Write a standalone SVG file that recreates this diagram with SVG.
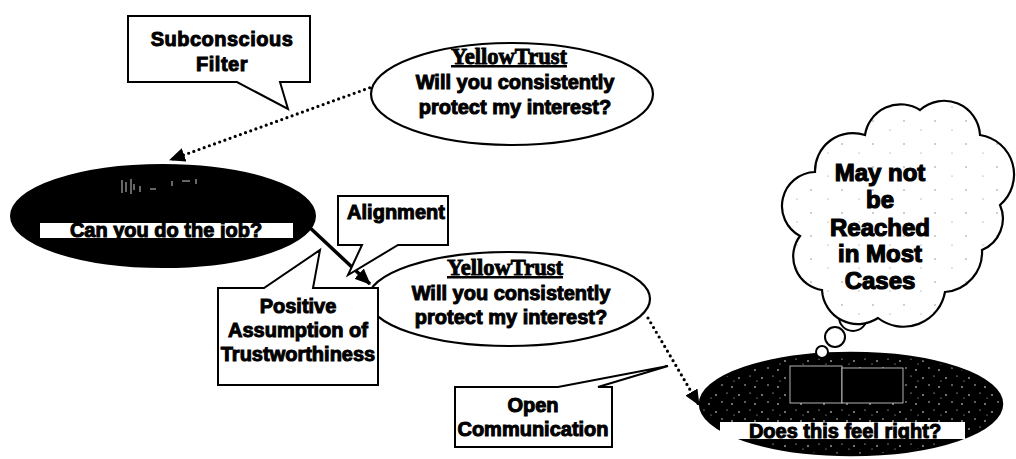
<svg xmlns="http://www.w3.org/2000/svg" width="1016" height="459" viewBox="0 0 1016 459">
<defs>
<style>
.lbl{font-family:"Liberation Sans",Arial,sans-serif;font-weight:bold;font-size:20px;fill:#000;stroke:#000;stroke-width:1;text-anchor:middle}
.big{font-size:24px;stroke-width:1.2}
.box{fill:#fff;stroke:#000;stroke-width:2;stroke-linejoin:miter}
.oval{fill:#fff;stroke:#000;stroke-width:2.2}
.logo{font-family:"Liberation Serif",serif;font-weight:bold;font-size:16px;fill:#000;text-anchor:middle;stroke:#000;stroke-width:0.6}
.dots{fill:none;stroke:#000;stroke-width:3.2;stroke-linecap:round;stroke-dasharray:0 5.5}
.solid{fill:none;stroke:#000;stroke-width:3.5}
</style>
<marker id="head" viewBox="0 0 16 14" refX="15" refY="7" markerWidth="16" markerHeight="14" markerUnits="userSpaceOnUse" orient="auto">
<path d="M0,0 L16,7 L0,14 Z" fill="#000"/>
</marker>
<pattern id="speck" width="23" height="17" patternUnits="userSpaceOnUse">
<rect width="23" height="17" fill="#000"/>
<circle cx="3" cy="4" r="0.8" fill="#fff"/>
<circle cx="14" cy="2" r="0.6" fill="#fff"/>
<circle cx="9" cy="11" r="0.7" fill="#fff"/>
<circle cx="19" cy="13" r="0.8" fill="#fff"/>
<circle cx="21" cy="7" r="0.5" fill="#fff"/>
</pattern>
<pattern id="haze" width="31" height="23" patternUnits="userSpaceOnUse">
<rect width="31" height="23" fill="#fff"/>
<circle cx="5" cy="6" r="0.7" fill="#777"/>
<circle cx="22" cy="15" r="0.6" fill="#888"/>
</pattern>
</defs>

<!-- connectors -->
<g id="connectors">
<path class="dots" d="M380,84 L170,160" marker-end="url(#head)"/>
<path class="solid" d="M306,224 L370,284" marker-end="url(#head)"/>
<path class="dots" d="M648,318 L699,405" marker-end="url(#head)"/>
</g>

<!-- top question oval -->
<g id="trust-top">
<ellipse class="oval" cx="512" cy="94" rx="141" ry="51"/>
<text class="logo" transform="translate(509,64) scale(1,1.5)" x="0" y="0" textLength="116" lengthAdjust="spacingAndGlyphs">YellowTrust</text>
<rect x="451" y="65" width="116" height="2.5" fill="#000"/>
<text class="lbl" x="515" y="89">Will you consistently</text>
<text class="lbl" x="515" y="114">protect my interest?</text>
</g>

<!-- ability oval -->
<g id="ability">
<ellipse cx="163" cy="216" rx="152" ry="51" fill="#000" stroke="#000" stroke-width="2"/>
<g stroke="#fff" stroke-width="1" opacity="0.8">
<path d="M122,180 V193 M126,182 V192 M131,179 V194 M134,184 V190 M140,186 V192 M150,189 H156 M172,181 V186 M182,181 H190 M196,179 V184"/>
</g>
<rect x="40" y="223" width="253" height="15" fill="#fff"/>
<text class="lbl" x="166" y="237" font-size="19">Can you do the job?</text>
</g>

<!-- second question oval -->
<g id="trust-mid">
<ellipse class="oval" cx="509" cy="299" rx="141" ry="47"/>
<text class="logo" transform="translate(505,275) scale(1,1.5)" x="0" y="0" textLength="116" lengthAdjust="spacingAndGlyphs">YellowTrust</text>
<rect x="447" y="276" width="116" height="2.5" fill="#000"/>
<text class="lbl" x="511" y="300">Will you consistently</text>
<text class="lbl" x="511" y="324">protect my interest?</text>
</g>

<!-- feeling oval -->
<g id="feeling">
<ellipse cx="851" cy="404" rx="151" ry="51" fill="url(#speck)" stroke="#000" stroke-width="2.5"/>
<rect x="790" y="366" width="52" height="37" fill="#000" stroke="#ddd" stroke-width="0.8"/>
<rect x="842" y="368" width="61" height="35" fill="#000" stroke="#ddd" stroke-width="0.8"/>
<rect x="720" y="422" width="245" height="17" fill="#fff"/>
<text class="lbl" x="845" y="438">Does this feel right?</text>
</g>

<!-- thought cloud -->
<g id="thought">
<circle cx="853" cy="317" r="14" fill="#fff" stroke="#000" stroke-width="2"/>
<circle cx="835" cy="337" r="10" fill="#fff" stroke="#000" stroke-width="2"/>
<circle cx="822" cy="352" r="6" fill="#fff" stroke="#000" stroke-width="2"/>
<path d="M815,172 A38,38 0 0 1 865,135 A36,36 0 0 1 920,110 A36,36 0 0 1 980,135 A40,40 0 0 1 1000,205 A34,34 0 0 1 982,250 A40,40 0 0 1 945,292 A42,42 0 0 1 878,318 A36,36 0 0 1 822,290 A34,34 0 0 1 800,236 A34,34 0 0 1 815,172 Z" fill="url(#haze)" stroke="#000" stroke-width="2.2"/>
<text class="lbl big" x="880" y="181">May not</text>
<text class="lbl big" x="880" y="208">be</text>
<text class="lbl big" x="880" y="236">Reached</text>
<text class="lbl big" x="880" y="262">in Most</text>
<text class="lbl big" x="880" y="289">Cases</text>
</g>

<!-- callouts -->
<g id="subconscious">
<path class="box" d="M128,16 H310 V82 H280 L288,109 L237,82 H128 Z"/>
<text class="lbl" x="222" y="46" font-size="22" letter-spacing="0.5">Subconscious</text>
<text class="lbl" x="222" y="71" font-size="22" letter-spacing="0.5">Filter</text>
</g>

<g id="alignment">
<path class="box" d="M338,196 H448 V245 H398 L348,275 L362,245 H338 Z"/>
<text class="lbl" x="396" y="219" font-size="21">Alignment</text>
</g>

<g id="positive">
<path class="box" d="M218,288 H264 L320,250 L313,288 H378 V385 H218 Z"/>
<text class="lbl" x="298" y="313" font-size="19">Positive</text>
<text class="lbl" x="298" y="337" font-size="19">Assumption of</text>
<text class="lbl" x="298" y="361" font-size="19">Trustworthiness</text>
</g>

<g id="communication">
<path class="box" d="M455,387 H558 L668,366 L598,387 H612 V447 H455 Z"/>
<text class="lbl" x="533" y="412" font-size="18">Open</text>
<text class="lbl" x="533" y="436" font-size="18">Communication</text>
</g>
</svg>
